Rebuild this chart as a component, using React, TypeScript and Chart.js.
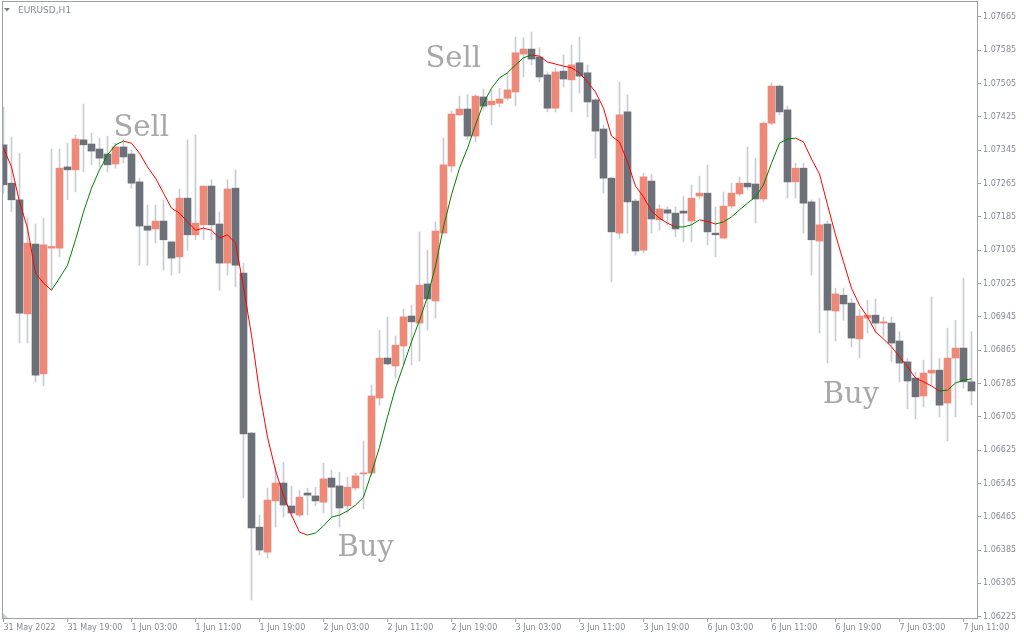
import React, { useEffect, useRef } from 'react';
import { Chart, registerables } from 'chart.js';

Chart.register(...registerables);

// EURUSD H1 candles (index 0 = 31 May 2022 11:00)
const opens = [
  1.07358, 1.07266, 1.07226, 1.06952, 1.07120, 1.06808, 1.07110, 1.07110, 1.07305, 1.07298,
  1.07370, 1.07360, 1.07348, 1.07336, 1.07312, 1.07353, 1.07336, 1.07269, 1.07163, 1.07156,
  1.07175, 1.07125, 1.07089, 1.07230, 1.07142, 1.07166, 1.07259, 1.07168, 1.07074, 1.07254,
  1.07050, 1.06666, 1.06440, 1.06380, 1.06503, 1.06546, 1.06491, 1.06469, 1.06522, 1.06515,
  1.06500, 1.06558, 1.06539, 1.06491, 1.06534, 1.06568, 1.06570, 1.06750, 1.06846, 1.06827,
  1.06875, 1.06947, 1.06930, 1.07024, 1.06983, 1.07146, 1.07307, 1.07430, 1.07444, 1.07379,
  1.07473, 1.07454, 1.07458, 1.07470, 1.07485, 1.07576, 1.07588, 1.07569, 1.07526, 1.07446,
  1.07535, 1.07514, 1.07555, 1.07531, 1.07466, 1.07396, 1.07278, 1.07146, 1.07437, 1.07223,
  1.07105, 1.07271, 1.07178, 1.07202, 1.07194, 1.07199, 1.07175, 1.07235, 1.07242, 1.07146,
  1.07134, 1.07211, 1.07240, 1.07266, 1.07264, 1.07228, 1.07410, 1.07499, 1.07442, 1.07269,
  1.07302, 1.07221, 1.07127, 1.07168, 1.06959, 1.06997, 1.06978, 1.06892, 1.06942, 1.06949,
  1.06930, 1.06930, 1.06887, 1.06837, 1.06798, 1.06755, 1.06810, 1.06817, 1.06738, 1.06846,
  1.06870, 1.06789,
];
const highs = [
  1.07449, 1.07377, 1.07338, 1.07182, 1.07168, 1.07182, 1.07348, 1.07348, 1.07362, 1.07382,
  1.07456, 1.07386, 1.07374, 1.07379, 1.07362, 1.07372, 1.07346, 1.07278, 1.07214, 1.07214,
  1.07226, 1.07125, 1.07252, 1.07370, 1.07382, 1.07259, 1.07274, 1.07197, 1.07274, 1.07298,
  1.07074, 1.06668, 1.06469, 1.06534, 1.06584, 1.06596, 1.06539, 1.06529, 1.06534, 1.06536,
  1.06594, 1.06577, 1.06572, 1.06560, 1.06570, 1.06647, 1.06781, 1.06913, 1.06945, 1.06899,
  1.06964, 1.06973, 1.07149, 1.07105, 1.07173, 1.07374, 1.07439, 1.07475, 1.07478, 1.07478,
  1.07492, 1.07490, 1.07494, 1.07533, 1.07617, 1.07615, 1.07629, 1.07591, 1.07533, 1.07543,
  1.07574, 1.07598, 1.07617, 1.07550, 1.07470, 1.07406, 1.07281, 1.07509, 1.07478, 1.07228,
  1.07290, 1.07288, 1.07214, 1.07209, 1.07209, 1.07235, 1.07262, 1.07283, 1.07310, 1.07209,
  1.07245, 1.07266, 1.07281, 1.07353, 1.07326, 1.07413, 1.07507, 1.07502, 1.07451, 1.07314,
  1.07314, 1.07226, 1.07230, 1.07175, 1.07014, 1.07014, 1.06988, 1.06961, 1.06985, 1.06988,
  1.06945, 1.06945, 1.06909, 1.06846, 1.06813, 1.06841, 1.06993, 1.06846, 1.06918, 1.06937,
  1.07038, 1.06909,
];
const lows = [
  1.07242, 1.07197, 1.06882, 1.06882, 1.06789, 1.06779, 1.07009, 1.07089, 1.07226, 1.07245,
  1.07293, 1.07310, 1.07305, 1.07293, 1.07302, 1.07314, 1.07254, 1.07069, 1.07069, 1.07122,
  1.07057, 1.07045, 1.07050, 1.07105, 1.07130, 1.07130, 1.07130, 1.07009, 1.07045, 1.07017,
  1.06510, 1.06265, 1.06373, 1.06366, 1.06440, 1.06464, 1.06464, 1.06464, 1.06469, 1.06491,
  1.06474, 1.06464, 1.06440, 1.06474, 1.06529, 1.06484, 1.06565, 1.06733, 1.06829, 1.06798,
  1.06829, 1.06829, 1.06839, 1.06913, 1.06942, 1.07146, 1.07293, 1.07428, 1.07370, 1.07365,
  1.07442, 1.07406, 1.07449, 1.07465, 1.07451, 1.07521, 1.07550, 1.07509, 1.07437, 1.07437,
  1.07497, 1.07437, 1.07482, 1.07425, 1.07326, 1.07242, 1.07029, 1.07134, 1.07146, 1.07093,
  1.07098, 1.07146, 1.07153, 1.07166, 1.07137, 1.07125, 1.07125, 1.07228, 1.07118, 1.07089,
  1.07134, 1.07206, 1.07235, 1.07250, 1.07170, 1.07221, 1.07406, 1.07430, 1.07230, 1.07230,
  1.07146, 1.07045, 1.06906, 1.06834, 1.06887, 1.06937, 1.06873, 1.06846, 1.06906, 1.06906,
  1.06897, 1.06837, 1.06789, 1.06724, 1.06700, 1.06729, 1.06781, 1.06705, 1.06647, 1.06705,
  1.06774, 1.06733,
];
const closes = [
  1.07262, 1.07226, 1.06954, 1.07122, 1.06805, 1.07118, 1.07114, 1.07302, 1.07298, 1.07372,
  1.07358, 1.07343, 1.07326, 1.07310, 1.07353, 1.07329, 1.07266, 1.07163, 1.07153, 1.07175,
  1.07130, 1.07086, 1.07230, 1.07142, 1.07170, 1.07259, 1.07166, 1.07074, 1.07252, 1.07069,
  1.06664, 1.06438, 1.06385, 1.06505, 1.06546, 1.06493, 1.06474, 1.06512, 1.06517, 1.06503,
  1.06556, 1.06536, 1.06486, 1.06536, 1.06563, 1.06570, 1.06755, 1.06846, 1.06832, 1.06877,
  1.06945, 1.06933, 1.07021, 1.06988, 1.07151, 1.07310, 1.07432, 1.07444, 1.07379, 1.07475,
  1.07451, 1.07463, 1.07468, 1.07490, 1.07579, 1.07588, 1.07564, 1.07521, 1.07446, 1.07533,
  1.07516, 1.07550, 1.07523, 1.07461, 1.07391, 1.07278, 1.07149, 1.07430, 1.07221, 1.07103,
  1.07281, 1.07180, 1.07204, 1.07194, 1.07156, 1.07194, 1.07230, 1.07242, 1.07149, 1.07142,
  1.07211, 1.07242, 1.07266, 1.07257, 1.07228, 1.07410, 1.07499, 1.07437, 1.07269, 1.07302,
  1.07218, 1.07130, 1.07166, 1.06961, 1.07000, 1.06976, 1.06894, 1.06947, 1.06949, 1.06930,
  1.06933, 1.06882, 1.06834, 1.06791, 1.06753, 1.06810, 1.06817, 1.06733, 1.06846, 1.06870,
  1.06789, 1.06767,
];

// Smoothed moving average (red while falling, green while rising)
const maValues = [
  1.07350, 1.07305, 1.07221, 1.07158, 1.07050, 1.07026, 1.07009, 1.07038, 1.07069, 1.07130,
  1.07197, 1.07254, 1.07298, 1.07334, 1.07358, 1.07367, 1.07362, 1.07338, 1.07305, 1.07278,
  1.07242, 1.07206, 1.07194, 1.07173, 1.07153, 1.07158, 1.07153, 1.07134, 1.07142, 1.07122,
  1.07017, 1.06901, 1.06765, 1.06656, 1.06577, 1.06515, 1.06469, 1.06428, 1.06421, 1.06426,
  1.06443, 1.06464, 1.06469, 1.06479, 1.06493, 1.06512, 1.06570, 1.06632, 1.06705, 1.06774,
  1.06829, 1.06885, 1.06937, 1.06993, 1.07067, 1.07161, 1.07238, 1.07302, 1.07350, 1.07406,
  1.07458, 1.07494, 1.07519, 1.07531, 1.07550, 1.07567, 1.07574, 1.07571, 1.07557, 1.07552,
  1.07547, 1.07543, 1.07531, 1.07509, 1.07485, 1.07446, 1.07379, 1.07365, 1.07317, 1.07259,
  1.07233, 1.07199, 1.07182, 1.07170, 1.07161, 1.07161, 1.07166, 1.07178, 1.07174, 1.07168,
  1.07173, 1.07185, 1.07202, 1.07218, 1.07233, 1.07262, 1.07314, 1.07362, 1.07372, 1.07374,
  1.07365, 1.07324, 1.07288, 1.07214, 1.07142, 1.07077, 1.07014, 1.06973, 1.06945, 1.06909,
  1.06892, 1.06873, 1.06849, 1.06825, 1.06798, 1.06789, 1.06779, 1.06767, 1.06769, 1.06786,
  1.06793, 1.06796,
];
// bar indexes where the MA trend flips (starts falling)
const maTurns = [6, 15, 38, 66, 84, 87, 89, 99, 117];

const xTickIndex = [0, 8, 16, 24, 32, 40, 48, 56, 64, 72, 80, 88, 96, 104, 112, 120];
const xTickLabels = [
  '31 May 2022', '31 May 19:00', '1 Jun 03:00', '1 Jun 11:00', '1 Jun 19:00', '2 Jun 03:00',
  '2 Jun 11:00', '2 Jun 19:00', '3 Jun 03:00', '3 Jun 11:00', '3 Jun 19:00', '6 Jun 03:00',
  '6 Jun 11:00', '6 Jun 19:00', '7 Jun 03:00', '7 Jun 11:00',
];
const yTickValues = [
  1.06225, 1.06305, 1.06385, 1.06465, 1.06545, 1.06625, 1.06705, 1.06785, 1.06865, 1.06945,
  1.07025, 1.07105, 1.07185, 1.07265, 1.07345, 1.07425, 1.07505, 1.07585, 1.07665,
];

const signalText = ['Sell', 'Sell', 'Buy', 'Buy'];
const signalBar = [13.75, 52.75, 41.75, 102.4];
const signalPrice = [1.07379, 1.07545, 1.06371, 1.06739];

const BULL = '#EE8877';
const BEAR = '#6B7079';
const WICK = '#C9CCD3';
const LABEL = '#868B95';
const FRAME = '#9EA2A8';

export default function App() {
  const ref = useRef<HTMLCanvasElement | null>(null);

  useEffect(() => {
    if (!ref.current) return;
    const idx = opens.map((_, i) => i);
    const wickData = idx.map((i) => ({ x: i, y: [lows[i], highs[i]] }));
    const bodyData = idx.map((i) => ({ x: i, y: [opens[i], closes[i]] }));
    const bodyColors = idx.map((i) => (closes[i] >= opens[i] ? BULL : BEAR));
    const maData = idx.map((i) => ({ x: i, y: maValues[i] }));

    const decorations = {
      id: 'decorations',
      afterDatasetsDraw(chart: any) {
        const { ctx, chartArea, scales } = chart;
        ctx.save();
        // frame
        ctx.strokeStyle = FRAME;
        ctx.lineWidth = 1;
        ctx.strokeRect(chartArea.left + 0.5, chartArea.top + 0.5, chartArea.right - chartArea.left, chartArea.bottom - chartArea.top);
        // header
        ctx.fillStyle = '#7A7F88';
        ctx.beginPath();
        ctx.moveTo(4, 8);
        ctx.lineTo(10, 8);
        ctx.lineTo(7, 11.5);
        ctx.closePath();
        ctx.fill();
        ctx.fillStyle = LABEL;
        ctx.font = '9px "DejaVu Sans"';
        ctx.textBaseline = 'middle';
        ctx.textAlign = 'left';
        ctx.fillText('EURUSD,H1', 18, 10.5);
        // corner marker
        ctx.fillStyle = '#C8CCD4';
        ctx.beginPath();
        ctx.moveTo(chartArea.left + 1, chartArea.bottom - 5);
        ctx.lineTo(chartArea.left + 1, chartArea.bottom);
        ctx.lineTo(chartArea.left + 6, chartArea.bottom);
        ctx.closePath();
        ctx.fill();
        // signal labels
        ctx.fillStyle = '#A8A8A8';
        ctx.font = '29px "DejaVu Serif"';
        ctx.textBaseline = 'alphabetic';
        signalText.forEach((t, k) => {
          const px = scales.x.getPixelForValue(signalBar[k]);
          const py = scales.y.getPixelForValue(signalPrice[k]);
          ctx.fillText(t, px, py);
        });
        ctx.restore();
      },
    };

    const chart = new Chart(ref.current, {
      type: 'bar',
      data: {
        datasets: [
          {
            type: 'bar',
            data: wickData as any,
            backgroundColor: WICK,
            barThickness: 1,
            grouped: false,
            borderWidth: 0,
            order: 3,
          } as any,
          {
            type: 'bar',
            data: bodyData as any,
            backgroundColor: bodyColors,
            barThickness: 7,
            grouped: false,
            borderWidth: 0,
            minBarLength: 1,
            order: 2,
          } as any,
          {
            type: 'line',
            data: maData as any,
            borderColor: '#FF0000',
            borderWidth: 1,
            pointRadius: 0,
            tension: 0,
            order: 1,
            segment: {
              borderColor: (c: any) => {
                const n = maTurns.filter((t) => t <= c.p0DataIndex).length;
                return n % 2 === 0 ? '#FF0000' : '#008000';
              },
            },
          } as any,
        ],
      },
      options: {
        animation: false,
        responsive: false,
        devicePixelRatio: 1,
        layout: { padding: { left: 2, top: 1, right: 0, bottom: 0 } },
        plugins: { legend: { display: false }, tooltip: { enabled: false } },
        scales: {
          x: {
            type: 'linear',
            min: -0.1875,
            max: 121.6875,
            offset: false,
            grid: { display: true, offset: false, drawOnChartArea: false, drawTicks: true, tickLength: 4, color: FRAME },
            border: { display: false },
            afterBuildTicks: (scale: any) => {
              scale.ticks = xTickIndex.map((v) => ({ value: v }));
            },
            afterFit: (scale: any) => {
              scale.height = 22;
              scale.paddingLeft = 0;
            },
            ticks: {
              align: 'start',
              maxRotation: 0,
              minRotation: 0,
              autoSkip: false,
              padding: 1,
              color: LABEL,
              font: { family: 'DejaVu Sans', size: 8 },
              callback: (_v: any, i: number) => xTickLabels[i],
            },
          } as any,
          y: {
            type: 'linear',
            position: 'right',
            min: 1.062219,
            max: 1.077034,
            stacked: false,
            beginAtZero: false,
            grid: { display: true, drawOnChartArea: false, drawTicks: true, tickLength: 4, color: FRAME },
            border: { display: false },
            afterBuildTicks: (scale: any) => {
              scale.ticks = yTickValues.map((v) => ({ value: v }));
            },
            afterFit: (scale: any) => {
              scale.width = 47;
              scale.paddingTop = 0;
              scale.paddingBottom = 0;
            },
            ticks: {
              padding: 2,
              color: LABEL,
              font: { family: 'DejaVu Sans', size: 8 },
              callback: (v: any) => Number(v).toFixed(5),
            },
          } as any,
        },
      },
      plugins: [decorations],
    });
    return () => chart.destroy();
  }, []);

  return (
    <div style={{ position: 'fixed', left: 0, top: 0, width: 1024, height: 640, background: '#FFFFFF' }}>
      <canvas ref={ref} width={1024} height={640} style={{ display: 'block', width: 1024, height: 640 }} />
    </div>
  );
}
